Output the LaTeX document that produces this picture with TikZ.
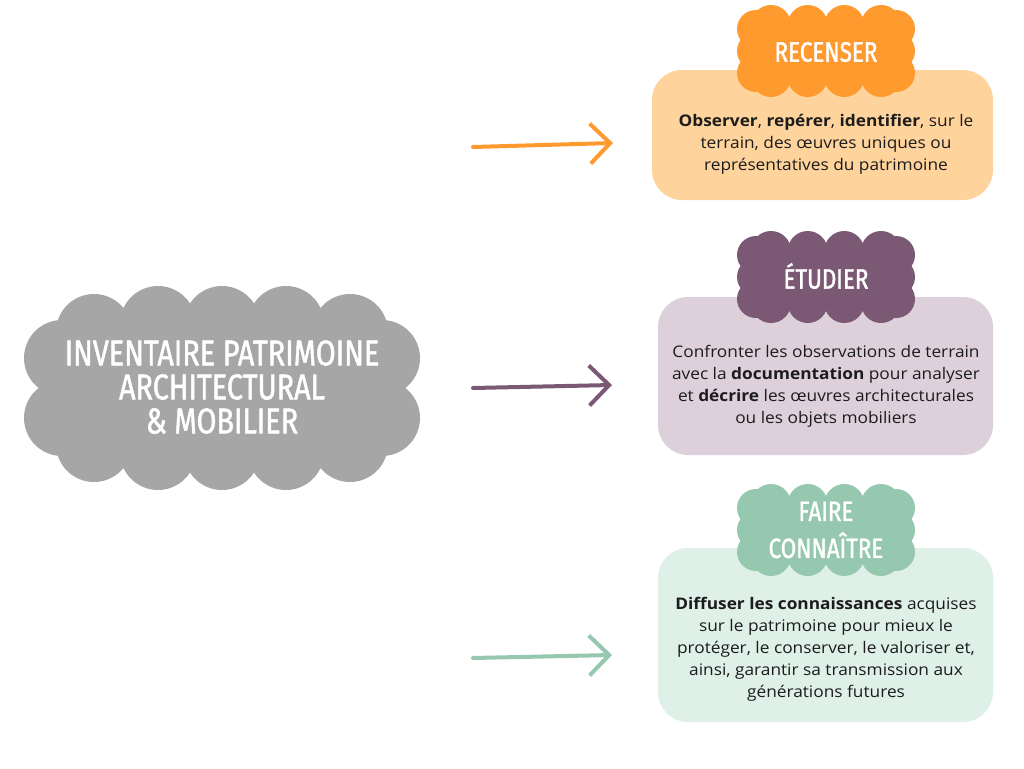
\documentclass[tikz,border=0pt]{standalone}
\usepackage{fontspec}
\setmainfont[FakeStretch=1.08]{Open Sans}
\newfontfamily\headfont[FakeStretch=0.8,FakeBold=1.3]{Fira Sans}
\usetikzlibrary{positioning}
\usetikzlibrary{arrows.meta}
\definecolor{recorange}{HTML}{FF9A2E}
\definecolor{recpale}{HTML}{FFD39C}
\definecolor{etuplum}{HTML}{7B5874}
\definecolor{etupale}{HTML}{DDD0DA}
\definecolor{faigreen}{HTML}{95C8AE}
\definecolor{faipale}{HTML}{DFF0E8}
\definecolor{invgray}{HTML}{A6A6A6}
\definecolor{inktext}{HTML}{1C1C1C}
% small cloud behind a heading
\newcommand{\headcloud}[2]{%
  \begin{scope}[shift={#1}]
    \fill[#2] (-70,-26) rectangle (70,26);
    \fill[#2] foreach \x in {-55,-18.3,18.3,55} {(\x,-26) circle (20pt) (\x,26) circle (20pt)};
    \fill[#2] foreach \y in {-22,0,22} {(-70,\y) circle (19pt) (70,\y) circle (19pt)};
  \end{scope}}
% big cloud in the middle
\newcommand{\bigcloud}[2]{%
  \begin{scope}[shift={#1}]
    \fill[#2, rounded corners=40pt] (-160,-64) rectangle (160,64);
    \fill[#2] foreach \x/\y in {-128/56,-64/64,0/64,64/64,128/56} {(\x,-\y) circle (38pt) (\x,\y) circle (38pt)};
    \fill[#2] foreach \y in {-30,30} {(-160,\y) circle (38pt) (160,\y) circle (38pt)};
  \end{scope}}

\begin{document}
\begin{tikzpicture}[x=1pt,y=-1pt,
    box/.style={rounded corners=30pt, minimum width=338pt, inner sep=0pt},
    bodytext/.style={align=center, text=inktext, font=\fontsize{16}{22}\selectfont},
    headtext/.style={align=center, text=white, font=\headfont\fontsize{28}{37}\selectfont},
    invtext/.style={align=center, text=white, font=\headfont\fontsize{36}{34}\selectfont},
    arrowline/.style={line width=4pt, line cap=round, -{Straight Barb[length=20pt,width=40pt]}}]
    \useasboundingbox (0,0) rectangle (1024,768);
    \fill[white] (0,0) rectangle (1024,768);
    
    %coordinates
    \coordinate (recfrom) at (473,147);
    \coordinate (recto)   at (613,143);
    \coordinate (etufrom) at (473,388);
    \coordinate (etuto)   at (612,385);
    \coordinate (faifrom) at (473,658);
    \coordinate (faito)   at (612,655);
    
    %boxes
    \node[box, fill=recpale, minimum width=341pt, minimum height=130pt] (recbox) at (822.5,135) {};
    \node[box, fill=etupale, minimum width=335pt, minimum height=158pt] (etubox) at (825.5,376) {};
    \node[box, fill=faipale, minimum width=335pt, minimum height=174pt] (faibox) at (825.5,635) {};
    
    %clouds
    \headcloud{(826,51)}{recorange}
    \headcloud{(826,277)}{etuplum}
    \headcloud{(826,530)}{faigreen}
    \bigcloud{(222,388)}{invgray}
    
    %texts
    \node[invtext] (inv) at (222,387) {INVENTAIRE PATRIMOINE\\ARCHITECTURAL\\\& MOBILIER};
    \node[headtext] (rec) at (826,52) {RECENSER};
    \node[headtext] (etu) at (826,276) {ÉTUDIER};
    \node[headtext] (fai) at (826,530) {FAIRE\\CONNAÎTRE};
    \node[bodytext] (rectxt) at (826,144) {\textbf{Observer}, \textbf{repérer}, \textbf{identifier}, sur le\\terrain, des œuvres uniques ou\\représentatives du patrimoine};
    \node[bodytext] (etutxt) at (826,386) {Confronter les observations de terrain\\avec la \textbf{documentation} pour analyser\\et \textbf{décrire} les œuvres architecturales\\ou les objets mobiliers};
    \node[bodytext] (faitxt) at (826,649) {\textbf{Diffuser les connaissances} acquises\\sur le patrimoine pour mieux le\\protéger, le conserver, le valoriser et,\\ainsi, garantir sa transmission aux\\générations futures};
    
    %arrows
    \draw[arrowline, recorange] (recfrom) -- (recto);
    \draw[arrowline, etuplum] (etufrom) -- (etuto);
    \draw[arrowline, faigreen] (faifrom) -- (faito);
\end{tikzpicture}
\end{document}
